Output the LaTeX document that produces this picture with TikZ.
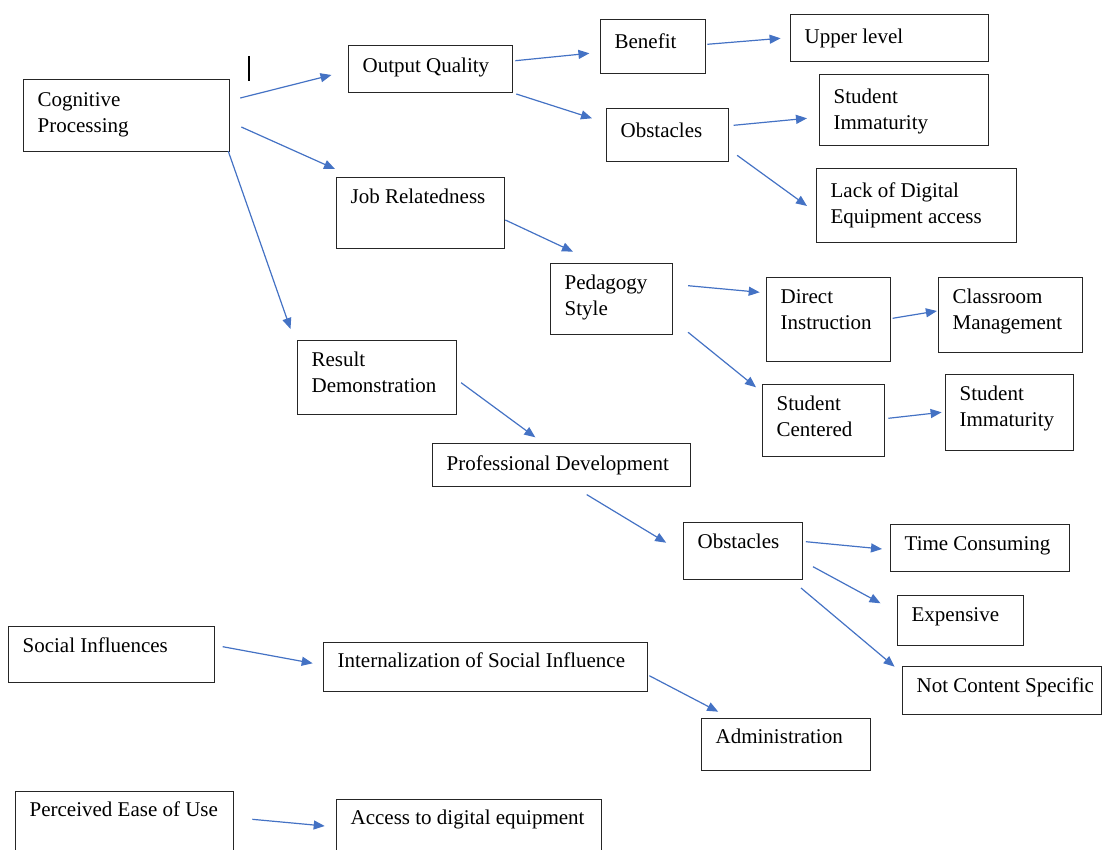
\documentclass[tikz,border=0pt]{standalone}
\usepackage{fontspec}
\setmainfont{Liberation Serif}
\usetikzlibrary{arrows.meta}
\definecolor{wordblue}{RGB}{68,114,196}
% text box: [first baseline], width, height (pt), text set at the top left
\newcommand{\boxtxt}[4][26]{\parbox[t][#3pt][t]{#2pt}{\fontsize{21}{26}\selectfont\leftskip=14pt\rule{0pt}{#1pt}#4}}
\tikzset{
  tbox/.style={draw=black!85, line width=1.3pt, inner sep=0pt, anchor=north west},
  link/.style={draw=wordblue, line width=1.2pt, -{Triangle[length=11pt,width=9pt]}}
}
\begin{document}
\begin{tikzpicture}[x=1pt, y=-1pt]
    \useasboundingbox (0,0) rectangle (1102,850);
    \clip (0,0) rectangle (1102,850);
    % boxes
    \node[tbox] (cog)  at (23,79)   {\boxtxt[27]{206}{72}{Cognitive\\Processing}};
    \node[tbox] (oq)   at (348,45)  {\boxtxt[27]{164}{47}{Output Quality}};
    \node[tbox] (job)  at (336,177) {\boxtxt{168}{71}{Job Relatedness}};
    \node[tbox] (res)  at (297,340) {\boxtxt{159}{74}{Result\\Demonstration}};
    \node[tbox] (ben)  at (600,19)  {\boxtxt[29]{105}{54}{Benefit}};
    \node[tbox] (upl)  at (790,14)  {\boxtxt[29]{198}{47}{Upper level}};
    \node[tbox] (obs1) at (606,108) {\boxtxt[29]{122}{53}{Obstacles}};
    \node[tbox] (imm1) at (819,74)  {\boxtxt[28.5]{169}{71}{Student\\Immaturity}};
    \node[tbox] (lack) at (816,168) {\boxtxt[28.5]{200}{74}{Lack of Digital\\Equipment access}};
    \node[tbox] (ped)  at (550,263) {\boxtxt{122}{71}{Pedagogy\\Style}};
    \node[tbox] (dir)  at (766,277) {\boxtxt{124}{84}{Direct\\Instruction}};
    \node[tbox] (cls)  at (938,277) {\boxtxt{144}{75}{Classroom\\Management}};
    \node[tbox] (stc)  at (762,384) {\boxtxt{122}{72}{Student\\Centered}};
    \node[tbox] (imm2) at (945,374) {\boxtxt{128}{76}{Student\\Immaturity}};
    \node[tbox] (prof) at (432,443) {\boxtxt[27]{258}{43}{Professional Development}};
    \node[tbox] (obs2) at (683,522) {\boxtxt{119}{57}{Obstacles}};
    \node[tbox] (tim)  at (890,524) {\boxtxt{179}{47}{Time Consuming}};
    \node[tbox] (exps) at (897,595) {\boxtxt{126}{50}{Expensive}};
    \node[tbox] (ncs)  at (902,666) {\boxtxt{199}{48}{Not Content Specific}};
    \node[tbox] (soc)  at (8,626)   {\boxtxt{206}{56}{Social Influences}};
    \node[tbox] (int)  at (323,642) {\boxtxt[25]{324}{49}{Internalization of Social Influence}};
    \node[tbox] (adm)  at (701,718) {\boxtxt[25]{169}{52}{Administration}};
    \node[tbox] (peu)  at (15,791)  {\boxtxt[24.5]{218}{70}{Perceived Ease of Use}};
    \node[tbox] (acc)  at (336,799) {\boxtxt[24.5]{265}{70}{Access to digital equipment}};
    % stray bar
    \draw[line width=1.4pt] (249,56) -- (249,81);
    % arrows
    \draw[link] ([shift={(10,19)}]cog.north east) -- ([shift={(-16.5,30)}]oq.north west);
    \draw[link] ([shift={(11,48)}]cog.north east) -- ([shift={(-1,-8)}]job.north west);
    \draw[link] ([shift={(-2,-1)}]cog.south east) -- ([shift={(-6.5,-11)}]res.north west);
    \draw[link] ([shift={(2,15.7)}]oq.north east) -- ([shift={(-10.6,34.3)}]ben.north west);
    \draw[link] ([shift={(3,0.7)}]oq.south east) -- ([shift={(-14,10.3)}]obs1.north west);
    \draw[link] ([shift={(1,25.3)}]ben.north east) -- ([shift={(-9.4,24.3)}]upl.north west);
    \draw[link] ([shift={(4.3,17.3)}]obs1.north east) -- ([shift={(-12,44.3)}]imm1.north west);
    \draw[link] ([shift={(7.8,-7)}]obs1.south east) -- ([shift={(-9,38)}]lack.north west);
    \draw[link] ([shift={(0,43)}]job.north east) -- ([shift={(23,-11.3)}]ped.north west);
    \draw[link] ([shift={(14.8,22.7)}]ped.north east) -- ([shift={(-6.3,15.3)}]dir.north west);
    \draw[link] ([shift={(14.8,-3)}]ped.south east) -- ([shift={(-6,3.3)}]stc.north west);
    \draw[link] ([shift={(1.3,41.3)}]dir.north east) -- ([shift={(-1.1,34)}]cls.north west);
    \draw[link] ([shift={(3,34.3)}]stc.north east) -- ([shift={(-3.4,38.3)}]imm2.north west);
    \draw[link] ([shift={(3.8,42.7)}]res.north east) -- ([shift={(103.3,-5.7)}]prof.north west);
    \draw[link] ([shift={(154.7,7.3)}]prof.south west) -- ([shift={(-16.8,20.7)}]obs2.north west);
    \draw[link] ([shift={(2.6,19.7)}]obs2.north east) -- ([shift={(-8,25)}]tim.north west);
    \draw[link] ([shift={(9.7,44.7)}]obs2.north east) -- ([shift={(-16.5,8.3)}]exps.north west);
    \draw[link] ([shift={(-2.3,7.7)}]obs2.south east) -- ([shift={(-7.4,0.7)}]ncs.north west);
    \draw[link] ([shift={(7.4,20.7)}]soc.north east) -- ([shift={(-10.3,21.3)}]int.north west);
    \draw[link] ([shift={(1,33.7)}]int.north east) -- ([shift={(17.2,-6.3)}]adm.north west);
    \draw[link] ([shift={(18,28.3)}]peu.north east) -- ([shift={(-11.3,27)}]acc.north west);
\end{tikzpicture}
\end{document}
